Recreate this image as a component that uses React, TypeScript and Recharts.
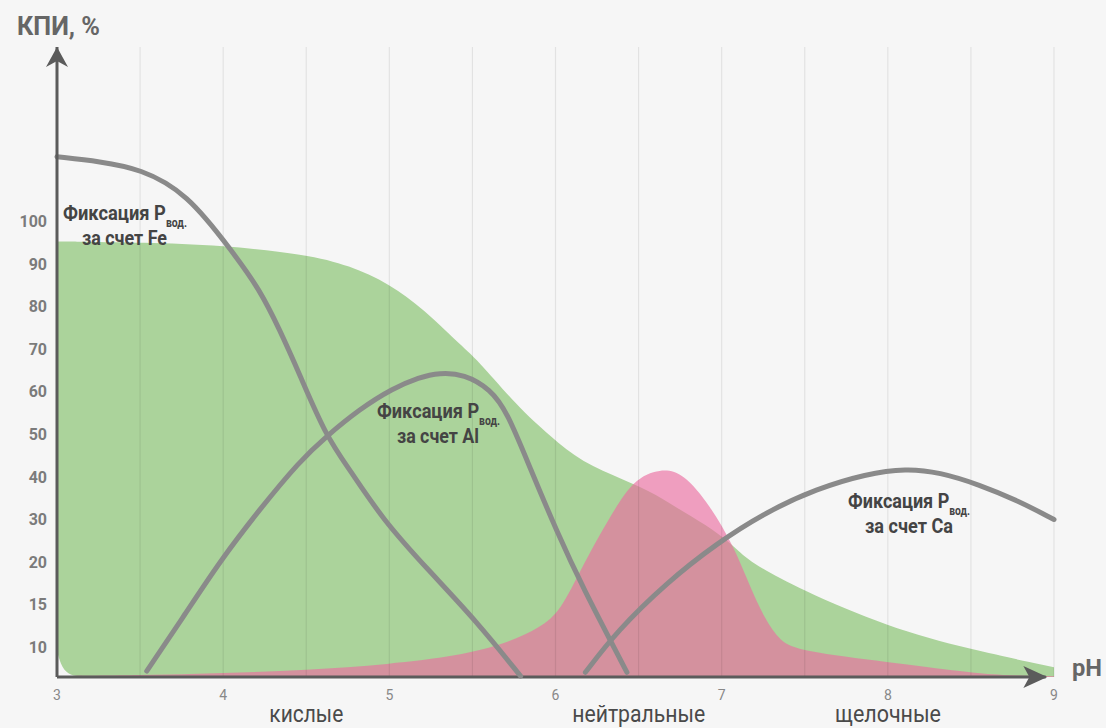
import { ComposedChart, Area, Line, XAxis, YAxis, ReferenceLine, ReferenceDot } from 'recharts'

const FONT = "Roboto, 'Liberation Sans', sans-serif"

// y axis: tick levels are evenly spaced, labels are not
const yTickLabels = ['10', '15', '20', '30', '40', '50', '60', '70', '80', '90', '100']
const yTickLevels = yTickLabels.map((_, i) => i + 1)
const phTicks = [3, 4, 5, 6, 7, 8, 9]
const gridPh = [3.5, 4, 4.5, 5, 5.5, 6, 6.5, 7, 7.5, 8, 8.5, 9]

// green zone (range area: low..top)
const greenPh = [3, 3.03, 3.08, 3.15, 3.5, 4, 4.5, 4.76, 5, 5.21, 5.41, 5.53, 5.77, 5.97, 6.16, 6.41, 6.61, 6.77, 6.95, 7.08, 7.17, 7.47, 8, 8.49, 9]
const greenTop = [10.53, 10.53, 10.53, 10.52, 10.51, 10.44, 10.23, 9.97, 9.54, 8.93, 8.16, 7.76, 6.66, 5.95, 5.34, 4.94, 4.59, 4.17, 3.77, 3.35, 3.0, 2.36, 1.47, 0.95, 0.53]
const greenLow = [0.9, 0.5, 0.34, 0.3, 0.3, 0.3, 0.3, 0.3, 0.3, 0.3, 0.3, 0.3, 0.3, 0.3, 0.3, 0.3, 0.3, 0.3, 0.3, 0.3, 0.3, 0.3, 0.3, 0.3, 0.3]

// pink zone
const pinkPh = [3, 3.5, 4, 4.5, 5, 5.41, 5.71, 5.91, 6.03, 6.16, 6.33, 6.47, 6.63, 6.77, 6.93, 7.07, 7.17, 7.26, 7.35, 7.47, 8, 8.48, 8.67, 9]
const pinkTop = [0.32, 0.34, 0.39, 0.46, 0.6, 0.79, 1.09, 1.47, 1.84, 2.9, 4.08, 4.95, 5.2, 5.1, 4.33, 3.39, 2.43, 1.66, 1.14, 0.91, 0.65, 0.41, 0.34, 0.32]

// fixation curves
const fePh = [3, 3.26, 3.5, 3.78, 4.06, 4.22, 4.34, 4.46, 4.62, 4.76, 4.96, 5.23, 5.53, 5.79]
const feVal = [12.52, 12.41, 12.24, 11.68, 10.27, 9.4, 8.46, 7.41, 5.95, 5.18, 4.0, 2.83, 1.59, 0.32]

const alPh = [3.54, 3.77, 3.98, 4.22, 4.46, 4.62, 4.82, 5.02, 5.18, 5.3, 5.45, 5.61, 5.71, 5.85, 6.01, 6.16, 6.43]
const alVal = [0.44, 1.77, 3.02, 4.24, 5.37, 5.95, 6.59, 7.08, 7.34, 7.45, 7.42, 7.06, 6.52, 5.18, 3.7, 2.43, 0.41]

const caPh = [6.18, 6.37, 6.67, 6.97, 7.27, 7.57, 7.87, 8.11, 8.31, 8.55, 8.79, 9]
const caVal = [0.41, 1.38, 2.52, 3.44, 4.18, 4.72, 5.07, 5.2, 5.11, 4.82, 4.43, 4.0]

const zoneLabels = ['кислые', 'нейтральные', 'щелочные']
const zonePh = [4.5, 6.5, 8]
const zoneWidths = [74, 133, 106]

const greenData = greenPh.map((ph, i) => ({ ph, range: [greenLow[i], greenTop[i]] }))
const pinkData = pinkPh.map((ph, i) => ({ ph, v: pinkTop[i] }))
const toLine = (xs: number[], ys: number[]) => xs.map((ph, i) => ({ ph, v: ys[i] }))

const X0 = 57
const PX_PER_PH = 166.2
const phToX = (ph: number) => X0 + (ph - 3) * PX_PER_PH

const ArrowRight = (props: any) => {
  const { cx, cy } = props
  return <path d={`M${cx},${cy} L${cx - 24},${cy - 11} L${cx - 18},${cy} L${cx - 24},${cy + 11} Z`} fill="#5b5b5b" />
}
const ArrowUp = (props: any) => {
  const { cx, cy } = props
  return <path d={`M${cx},${cy} L${cx - 11},${cy + 20} L${cx},${cy + 14} L${cx + 11},${cy + 20} Z`} fill="#5b5b5b" />
}

// condensed-looking text: stretch to the measured width
const Narrow = ({ x, y, w, size, bold, fill, children }: any) => (
  <text x={x} y={y} textLength={w} lengthAdjust="spacingAndGlyphs" fontFamily={FONT} fontSize={size} fontWeight={bold ? 'bold' : 'normal'} fill={fill}>
    {children}
  </text>
)

function Label({ x, y, w, x2, w2, metal }: any) {
  return (
    <g>
      <Narrow x={x} y={y} w={w} size={21} bold fill="#444">
        Фиксация P<tspan fontSize={12} dy={7}>вод.</tspan>
      </Narrow>
      <Narrow x={x2} y={y + 25} w={w2} size={21} bold fill="#444">{`за счет ${metal}`}</Narrow>
    </g>
  )
}

const seriesProps = {
  dataKey: 'v',
  type: 'basis' as const,
  stroke: '#8a8a8a',
  strokeWidth: 5,
  strokeLinecap: 'round' as const,
  dot: false,
  isAnimationActive: false,
}

export default function App() {
  return (
    <div style={{ position: 'absolute', left: 0, top: 0, width: 1106, height: 728, background: '#f6f6f6', overflow: 'hidden' }}>
      <ComposedChart width={1106} height={728} margin={{ top: 47, right: 52, bottom: 0, left: 0 }}>
        <XAxis
          type="number"
          dataKey="ph"
          domain={[3, 9]}
          ticks={phTicks}
          height={51}
          axisLine={false}
          tickLine={false}
          tickMargin={7}
          tick={{ fill: '#888', fontSize: 14, fontFamily: FONT }}
          allowDuplicatedCategory={false}
        />
        <YAxis
          type="number"
          domain={[0.3, 15.1]}
          ticks={yTickLevels}
          tickFormatter={(v: number) => yTickLabels[v - 1] ?? ''}
          width={57}
          axisLine={{ stroke: '#5b5b5b', strokeWidth: 3 }}
          tickLine={false}
          tickMargin={4}
          tick={{ fill: '#7b7b7b', fontSize: 16, fontWeight: 'bold', fontFamily: FONT }}
        />
        <Area data={greenData} dataKey="range" type="basis" fill="#abd39b" fillOpacity={1} stroke="none" isAnimationActive={false} />
        <Area data={pinkData} dataKey="v" baseValue={0.3} type="basis" fill="#eb6ca0" fillOpacity={0.64} stroke="none" isAnimationActive={false} />
        {gridPh.map((ph) => (
          <ReferenceLine key={ph} x={ph} stroke="rgba(0,0,0,0.08)" strokeWidth={1.2} />
        ))}
        <ReferenceLine segment={[{ x: 3, y: 0.3 }, { x: 8.95, y: 0.3 }]} stroke="#5b5b5b" strokeWidth={3} />
        <Line data={toLine(fePh, feVal)} {...seriesProps} />
        <Line data={toLine(alPh, alVal)} {...seriesProps} />
        <Line data={toLine(caPh, caVal)} {...seriesProps} />
        <ReferenceDot x={8.96} y={0.3} r={0} shape={ArrowRight} />
        <ReferenceDot x={3} y={15.1} r={0} shape={ArrowUp} />
      </ComposedChart>
      <svg width={1106} height={728} style={{ position: 'absolute', left: 0, top: 0, pointerEvents: 'none' }}>
        <Narrow x={17} y={35} w={83} size={25} bold fill="#666">КПИ, %</Narrow>
        <Narrow x={1072} y={676} w={30} size={24} bold fill="#666">pH</Narrow>
        <Label x={63} y={220} w={124} x2={82} w2={85} metal="Fe" />
        <Label x={377} y={418} w={123} x2={397} w2={82} metal="Al" />
        <Label x={848} y={508} w={122} x2={865} w2={88} metal="Ca" />
        {zoneLabels.map((t, i) => (
          <Narrow key={t} x={phToX(zonePh[i]) - zoneWidths[i] / 2} y={722} w={zoneWidths[i]} size={24} fill="#4a4a4a">
            {t}
          </Narrow>
        ))}
      </svg>
    </div>
  )
}
